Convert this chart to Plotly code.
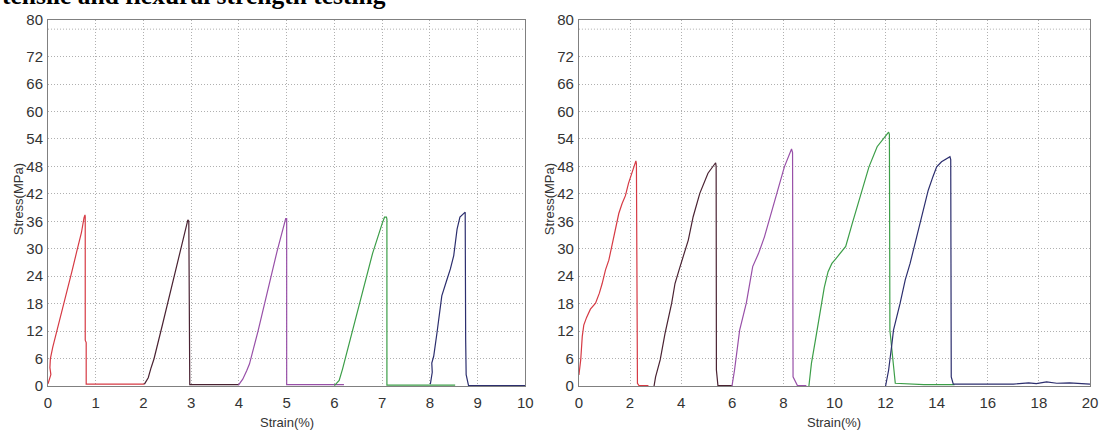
import plotly.graph_objects as go

title_text = "tensile and flexural strength testing"
x_title = "Strain(%)"
y_title = "Stress(MPa)"

# ---------- Left panel (0-10 % strain) ----------
L_red_x = [0.0, 0.03, 0.06, 0.04, 0.05, 0.1, 0.2, 0.3, 0.4, 0.5, 0.6, 0.7, 0.755, 0.775, 0.78, 0.78, 0.8, 0.8, 1.4, 2.02]
L_red_y = [0.5, 1.5, 2.5, 4.0, 6.0, 8.5, 12.5, 16.5, 20.8, 25.0, 29.3, 33.5, 36.8, 37.4, 37.0, 10.0, 9.5, 0.4, 0.4, 0.4]

L_brown_x = [2.02, 2.1, 2.16, 2.22, 2.4, 2.6, 2.8, 2.93, 2.95, 2.96, 2.97, 3.5, 4.0]
L_brown_y = [0.4, 1.8, 4.0, 5.9, 13.5, 22.0, 30.5, 36.3, 36.0, 9.0, 0.3, 0.3, 0.3]

L_purple_x = [3.99, 4.08, 4.16, 4.22, 4.4, 4.6, 4.8, 4.98, 5.0, 5.0, 5.5, 6.2]
L_purple_y = [0.2, 1.5, 3.3, 4.8, 12.0, 21.0, 29.5, 36.6, 36.6, 0.3, 0.3, 0.3]

L_green_x = [6.0, 6.1, 6.17, 6.4, 6.6, 6.8, 7.0, 7.05, 7.09, 7.1, 7.1, 7.8, 8.53]
L_green_y = [0.1, 1.2, 3.7, 13.0, 21.0, 29.0, 35.5, 36.9, 36.9, 36.5, 0.2, 0.2, 0.2]

L_navy_x = [8.01, 8.05, 8.04, 8.08, 8.15, 8.25, 8.35, 8.43, 8.5, 8.57, 8.63, 8.7, 8.74, 8.75, 8.76, 8.81, 9.5, 10.0]
L_navy_y = [0.4, 3.0, 5.0, 6.5, 11.7, 19.7, 23.0, 25.6, 28.5, 34.3, 36.9, 37.6, 38.0, 10.0, 2.5, 0.1, 0.1, 0.1]

# ---------- Right panel (0-20 % strain) ----------
R_red_x = [0.0, 0.04, 0.07, 0.13, 0.19, 0.3, 0.45, 0.65, 0.8, 0.91, 1.04, 1.17, 1.36, 1.49, 1.56, 1.69, 1.82, 1.94, 2.1, 2.23, 2.25, 2.26, 2.29, 2.35, 2.72]
R_red_y = [2.4, 4.0, 5.7, 10.8, 13.3, 15.0, 16.8, 18.1, 20.3, 22.4, 25.4, 27.5, 32.6, 36.0, 37.7, 39.9, 41.6, 44.3, 46.8, 49.2, 48.5, 27.5, 0.6, 0.1, 0.1]

R_brown_x = [2.94, 3.0, 3.18, 3.37, 3.63, 3.76, 3.92, 4.08, 4.28, 4.47, 4.73, 5.05, 5.35, 5.37, 5.38, 5.44, 6.0]
R_brown_y = [0.0, 2.0, 5.7, 11.5, 18.1, 22.4, 25.4, 28.3, 31.9, 37.0, 42.1, 46.5, 48.8, 48.0, 3.5, 0.1, 0.1]

R_purple_x = [5.99, 6.09, 6.29, 6.55, 6.8, 7.03, 7.26, 7.52, 7.78, 8.04, 8.32, 8.36, 8.38, 8.55, 8.9]
R_purple_y = [0.0, 3.5, 12.2, 18.1, 26.1, 29.0, 32.6, 37.7, 42.8, 47.9, 51.8, 51.0, 2.0, 0.1, 0.1]

R_green_x = [9.0, 9.1, 9.27, 9.46, 9.6, 9.75, 9.9, 10.05, 10.24, 10.44, 10.7, 11.03, 11.35, 11.67, 12.0, 12.12, 12.15, 12.17, 12.38, 13.5, 14.7]
R_green_y = [0.0, 5.0, 10.5, 17.3, 21.5, 25.0, 26.8, 27.8, 29.0, 30.5, 35.6, 42.1, 47.9, 52.3, 54.5, 55.5, 55.0, 12.2, 0.6, 0.3, 0.3]

R_navy_x = [12.0, 12.12, 12.25, 12.31, 12.57, 12.77, 12.96, 13.22, 13.48, 13.67, 13.85, 14.0, 14.19, 14.52, 14.55, 14.57, 14.65, 15.5, 17.0, 17.6, 17.9, 18.3, 18.7, 19.2, 20.0]
R_navy_y = [0.0, 3.5, 9.3, 12.2, 18.1, 23.2, 26.8, 32.6, 38.5, 42.8, 45.7, 47.9, 49.0, 50.1, 49.5, 2.0, 0.4, 0.4, 0.4, 0.7, 0.5, 0.9, 0.6, 0.7, 0.4]

y_ticks = [0, 6, 12, 18, 24, 30, 36, 42, 48, 54, 60, 66, 72, 80]
L_x_ticks = [0, 1, 2, 3, 4, 5, 6, 7, 8, 9, 10]
R_x_ticks = [0, 2, 4, 6, 8, 10, 12, 14, 16, 18, 20]

colors = {"red": "#d63a44", "brown": "#4a2232", "purple": "#9850a8", "green": "#3c9e48", "navy": "#2c2e6e"}

fig = go.Figure()
left = [(L_red_x, L_red_y, "red"), (L_brown_x, L_brown_y, "brown"), (L_purple_x, L_purple_y, "purple"),
        (L_green_x, L_green_y, "green"), (L_navy_x, L_navy_y, "navy")]
right = [(R_red_x, R_red_y, "red"), (R_brown_x, R_brown_y, "brown"), (R_purple_x, R_purple_y, "purple"),
         (R_green_x, R_green_y, "green"), (R_navy_x, R_navy_y, "navy")]
for xs, ys, c in left:
    fig.add_trace(go.Scatter(x=xs, y=ys, mode="lines", line=dict(color=colors[c], width=1.2),
                             xaxis="x", yaxis="y", showlegend=False))
for xs, ys, c in right:
    fig.add_trace(go.Scatter(x=xs, y=ys, mode="lines", line=dict(color=colors[c], width=1.2),
                             xaxis="x2", yaxis="y2", showlegend=False))

W, H = 1106, 430
ml, mr, mt, mb = 48, 8, 20, 44
pw = W - ml - mr
ph = H - mt - mb
L_dom = [0, (529 - ml) / pw]
R_dom = [(583 - ml) / pw, 1.0]

tick_font = dict(family="Liberation Sans, Arial, sans-serif", size=15, color="#333333")
grid = dict(showgrid=True, gridcolor="#b0b0b0", griddash="1px,2px", gridwidth=1,
            showline=True, linecolor="#808080", linewidth=1, mirror=True, zeroline=False,
            ticks="", tickfont=tick_font)

fig.update_layout(
    width=W, height=H, autosize=False,
    margin=dict(l=ml, r=mr, t=mt, b=mb),
    paper_bgcolor="white", plot_bgcolor="white",
    xaxis=dict(domain=L_dom, range=[0, 10], tickvals=L_x_ticks, anchor="y", ticklabelstandoff=3, **grid),
    yaxis=dict(domain=[0, 1], range=[0, 80], tickvals=y_ticks, anchor="x", ticklabelstandoff=1, **grid),
    xaxis2=dict(domain=R_dom, range=[0, 20], tickvals=R_x_ticks, anchor="y2", ticklabelstandoff=3, **grid),
    yaxis2=dict(domain=[0, 1], range=[0, 80], tickvals=y_ticks, anchor="x2", ticklabelstandoff=1, **grid),
)

# extra gridline at 78 (grid every 6 up to 78)
for xr, yr in (("x domain", "y"), ("x2 domain", "y2")):
    fig.add_shape(type="line", xref=xr, yref=yr, x0=0, x1=1, y0=78, y1=78,
                  line=dict(color="#b0b0b0", width=1, dash="1px,2px"), layer="below")

title_font = dict(family="Liberation Sans, Arial, sans-serif", size=13, color="#333333")
annos = [
    dict(text="<b>" + title_text + "</b>", xref="paper", yref="paper", x=-ml / pw, y=1 + (mt + 4) / ph,
         xanchor="left", yanchor="middle", showarrow=False,
         font=dict(family="Liberation Serif, Times New Roman, serif", size=25.5, color="black")),
    dict(text=x_title, xref="paper", yref="paper", x=(L_dom[0] + L_dom[1]) / 2, y=(386 - 422) / ph,
         xanchor="center", yanchor="middle", showarrow=False, font=title_font),
    dict(text=x_title, xref="paper", yref="paper", x=(R_dom[0] + R_dom[1]) / 2, y=(386 - 422) / ph,
         xanchor="center", yanchor="middle", showarrow=False, font=title_font),
    dict(text=y_title, xref="paper", yref="paper", x=(18 - ml) / pw, y=(386 - 199) / ph,
         xanchor="center", yanchor="middle", textangle=-90, showarrow=False, font=title_font),
    dict(text=y_title, xref="paper", yref="paper", x=(553 - ml) / pw, y=(386 - 199) / ph,
         xanchor="center", yanchor="middle", textangle=-90, showarrow=False, font=title_font),
]
fig.update_layout(annotations=annos)

fig.write_html(
    "out.html",
    config={"displayModeBar": False, "responsive": False},
    post_script="document.body.style.margin='0';document.body.style.overflow='hidden';"
                "document.documentElement.style.overflow='hidden';",
)
